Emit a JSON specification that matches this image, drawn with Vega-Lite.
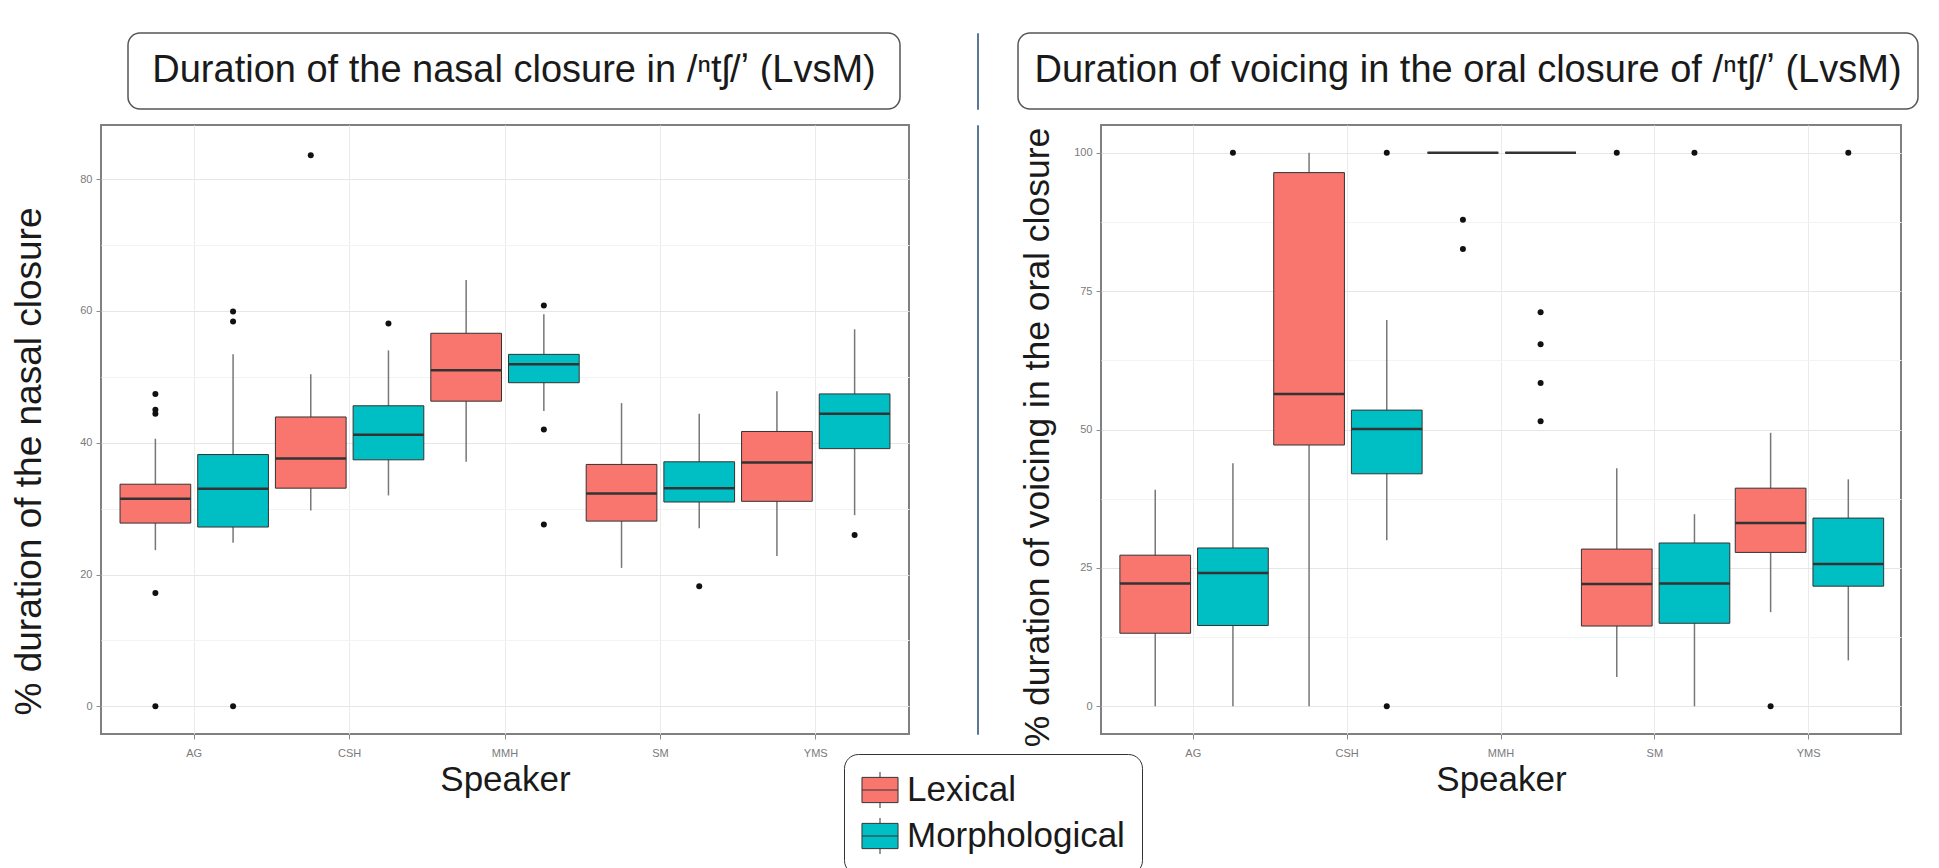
{
  "$schema": "https://vega.github.io/schema/vega-lite/v6.json",
  "background": "white",
  "padding": {"left": 9, "top": 32, "right": 5, "bottom": 0},
  "spacing": 14,
  "datasets": {
    "titles": [
      {"panel": "L", "t": "Duration of the nasal closure in /ⁿtʃ/ʼ (LvsM)"},
      {"panel": "R", "t": "Duration of voicing in the oral closure of /ⁿtʃ/ʼ (LvsM)"}
    ],
    "boxesL": [
      {"speaker": "AG", "group": "Lexical", "lo": 23.7, "q1": 27.8, "med": 31.5, "q3": 33.7, "hi": 40.6},
      {"speaker": "AG", "group": "Morphological", "lo": 24.8, "q1": 27.2, "med": 33.0, "q3": 38.2, "hi": 53.4},
      {"speaker": "CSH", "group": "Lexical", "lo": 29.7, "q1": 33.1, "med": 37.6, "q3": 43.9, "hi": 50.4},
      {"speaker": "CSH", "group": "Morphological", "lo": 32.0, "q1": 37.4, "med": 41.2, "q3": 45.6, "hi": 54.0},
      {"speaker": "MMH", "group": "Lexical", "lo": 37.1, "q1": 46.3, "med": 51.0, "q3": 56.6, "hi": 64.7},
      {"speaker": "MMH", "group": "Morphological", "lo": 44.8, "q1": 49.1, "med": 51.9, "q3": 53.4, "hi": 59.5},
      {"speaker": "SM", "group": "Lexical", "lo": 21.0, "q1": 28.1, "med": 32.3, "q3": 36.7, "hi": 46.0},
      {"speaker": "SM", "group": "Morphological", "lo": 27.0, "q1": 31.0, "med": 33.1, "q3": 37.1, "hi": 44.4},
      {"speaker": "YMS", "group": "Lexical", "lo": 22.8, "q1": 31.1, "med": 37.0, "q3": 41.7, "hi": 47.8},
      {"speaker": "YMS", "group": "Morphological", "lo": 29.0, "q1": 39.1, "med": 44.4, "q3": 47.4, "hi": 57.2}
    ],
    "outL": [
      {"speaker": "AG", "group": "Lexical", "v": 47.4},
      {"speaker": "AG", "group": "Lexical", "v": 45.0},
      {"speaker": "AG", "group": "Lexical", "v": 44.4},
      {"speaker": "AG", "group": "Lexical", "v": 17.2},
      {"speaker": "AG", "group": "Lexical", "v": 0},
      {"speaker": "AG", "group": "Morphological", "v": 59.9},
      {"speaker": "AG", "group": "Morphological", "v": 58.4},
      {"speaker": "AG", "group": "Morphological", "v": 0},
      {"speaker": "CSH", "group": "Lexical", "v": 83.6},
      {"speaker": "CSH", "group": "Morphological", "v": 58.1},
      {"speaker": "MMH", "group": "Morphological", "v": 60.8},
      {"speaker": "MMH", "group": "Morphological", "v": 42.0},
      {"speaker": "MMH", "group": "Morphological", "v": 27.6},
      {"speaker": "SM", "group": "Morphological", "v": 18.2},
      {"speaker": "YMS", "group": "Morphological", "v": 26.0}
    ],
    "boxesR": [
      {"speaker": "AG", "group": "Lexical", "lo": 0, "q1": 13.2, "med": 22.2, "q3": 27.3, "hi": 39.1},
      {"speaker": "AG", "group": "Morphological", "lo": 0, "q1": 14.6, "med": 24.1, "q3": 28.6, "hi": 43.9},
      {"speaker": "CSH", "group": "Lexical", "lo": 0, "q1": 47.2, "med": 56.4, "q3": 96.4, "hi": 100},
      {"speaker": "CSH", "group": "Morphological", "lo": 30.0, "q1": 42.0, "med": 50.1, "q3": 53.5, "hi": 69.8},
      {"speaker": "MMH", "group": "Lexical", "lo": 100, "q1": 100, "med": 100, "q3": 100, "hi": 100},
      {"speaker": "MMH", "group": "Morphological", "lo": 100, "q1": 100, "med": 100, "q3": 100, "hi": 100},
      {"speaker": "SM", "group": "Lexical", "lo": 5.3, "q1": 14.5, "med": 22.1, "q3": 28.4, "hi": 43.0},
      {"speaker": "SM", "group": "Morphological", "lo": 0, "q1": 15.0, "med": 22.2, "q3": 29.5, "hi": 34.7},
      {"speaker": "YMS", "group": "Lexical", "lo": 17.0, "q1": 27.8, "med": 33.1, "q3": 39.4, "hi": 49.4},
      {"speaker": "YMS", "group": "Morphological", "lo": 8.3, "q1": 21.7, "med": 25.7, "q3": 34.0, "hi": 41.0}
    ],
    "outR": [
      {"speaker": "AG", "group": "Morphological", "v": 100},
      {"speaker": "CSH", "group": "Morphological", "v": 100},
      {"speaker": "CSH", "group": "Morphological", "v": 0},
      {"speaker": "MMH", "group": "Lexical", "v": 87.9},
      {"speaker": "MMH", "group": "Lexical", "v": 82.6},
      {"speaker": "MMH", "group": "Morphological", "v": 71.2},
      {"speaker": "MMH", "group": "Morphological", "v": 65.4},
      {"speaker": "MMH", "group": "Morphological", "v": 58.4},
      {"speaker": "MMH", "group": "Morphological", "v": 51.5},
      {"speaker": "SM", "group": "Lexical", "v": 100},
      {"speaker": "SM", "group": "Morphological", "v": 100},
      {"speaker": "YMS", "group": "Lexical", "v": 0},
      {"speaker": "YMS", "group": "Morphological", "v": 100}
    ]
  },
  "config": {
    "font": "Liberation Sans",
    "view": {"stroke": "#808080", "strokeWidth": 2},
    "axis": {
      "labelFontSize": 11, "labelColor": "#7a7a7a", "tickColor": "#8a8a8a", "tickSize": 5,
      "domain": false, "labelPadding": 4, "titleFontWeight": "normal", "titleColor": "#1a1a1a"
    }
  },
  "vconcat": [
    {
      "bounds": "flush",
      "spacing": 0,
      "hconcat": [
        {"width": 27, "height": 76, "view": {"stroke": null}, "data": {"values": [{}]}, "mark": {"type": "point", "opacity": 0}, "encoding": {}},
        {
          "width": 772, "height": 76,
          "view": {"stroke": "#555555", "strokeWidth": 1.5, "cornerRadius": 12, "fill": "white"},
          "data": {"name": "titles"},
          "transform": [{"filter": "datum.panel === 'L'"}],
          "mark": {"type": "text", "fontSize": 38, "align": "center", "baseline": "middle", "color": "#1a1a1a"},
          "encoding": {"text": {"field": "t"}}
        },
        {"width": 77, "height": 76, "view": {"stroke": null}, "data": {"values": [{}]}, "mark": {"type": "point", "opacity": 0}, "encoding": {}},
        {"width": 1, "height": 76, "view": {"stroke": "#5a7896", "strokeWidth": 1}, "data": {"values": [{}]}, "mark": {"type": "point", "opacity": 0}, "encoding": {}},
        {"width": 40, "height": 76, "view": {"stroke": null}, "data": {"values": [{}]}, "mark": {"type": "point", "opacity": 0}, "encoding": {}},
        {
          "width": 900, "height": 76,
          "view": {"stroke": "#555555", "strokeWidth": 1.5, "cornerRadius": 12, "fill": "white"},
          "data": {"name": "titles"},
          "transform": [{"filter": "datum.panel === 'R'"}],
          "mark": {"type": "text", "fontSize": 38, "align": "center", "baseline": "middle", "color": "#1a1a1a"},
          "encoding": {"text": {"field": "t"}}
        }
      ]
    },
    {
      "bounds": "flush",
      "spacing": 0,
      "hconcat": [
        {
          "width": 808, "height": 609,
          "encoding": {
            "x": {"field": "speaker", "type": "nominal", "sort": ["AG", "CSH", "MMH", "SM", "YMS"],
              "scale": {"paddingInner": 0, "paddingOuter": 0.1},
              "axis": {"title": "Speaker", "titleFontSize": 35, "titlePadding": 4, "labelAngle": 0, "labelPadding": 8, "bandPosition": 0.5, "gridColor": "#ebebeb", "grid": true}},
            "xOffset": {"field": "group", "type": "nominal", "sort": ["Lexical", "Morphological"], "scale": {"paddingInner": 0.09, "paddingOuter": 0.045}}
          },
          "layer": [
            {
              "data": {"name": "boxesL"},
              "mark": {"type": "rule", "color": "#777777", "strokeWidth": 1.5},
              "encoding": {
                "y": {"field": "lo", "type": "quantitative", "scale": {"domain": [-4.2, 88.2], "nice": false, "zero": false},
                  "axis": {"title": "% duration of the nasal closure", "titleFontSize": 37, "titlePadding": 31, "titleY": 336,
                    "values": [0, 10, 20, 30, 40, 50, 60, 70, 80],
                    "labelExpr": "datum.value % 20 === 0 ? datum.label : ''",
                    "tickOpacity": {"condition": {"test": "datum.value % 20 === 0", "value": 1}, "value": 0},
                    "gridColor": {"condition": {"test": "datum.value % 20 === 0", "value": "#e6e6e6"}, "value": "#f3f3f3"}}},
                "y2": {"field": "hi"}
              }
            },
            {
              "data": {"name": "boxesL"},
              "mark": {"type": "bar", "stroke": "#333333", "strokeWidth": 1},
              "encoding": {
                "y": {"field": "q1", "type": "quantitative"},
                "y2": {"field": "q3"},
                "color": {"field": "group", "type": "nominal", "scale": {"domain": ["Lexical", "Morphological"], "range": ["#F8766D", "#00BFC4"]},
                  "legend": {"title": null, "orient": "none", "legendX": 743, "legendY": 721, "labelFontSize": 35, "labelColor": "#1a1a1a", "labelLimit": 500,
                    "symbolType": "M-1,-0.7H1V0.7H-1Z M-1,0H1 M0,-0.7V-1 M0,0.7V1", "symbolSize": 1300, "symbolStrokeColor": "#333333", "symbolStrokeWidth": 1,
                    "symbolOpacity": 1, "rowPadding": 4, "labelOffset": 8, "padding": 17, "strokeColor": "#333333", "cornerRadius": 14, "fillColor": "white"}}
              }
            },
            {
              "data": {"name": "boxesL"},
              "mark": {"type": "bar", "stroke": "#333333", "strokeWidth": 2.5, "fill": null},
              "encoding": {
                "y": {"field": "med", "type": "quantitative"},
                "y2": {"field": "med"}
              }
            },
            {
              "data": {"name": "outL"},
              "mark": {"type": "point", "filled": true, "color": "#111111", "size": 36, "opacity": 1},
              "encoding": {"y": {"field": "v", "type": "quantitative"}}
            }
          ]
        },
        {"width": 68, "height": 609, "view": {"stroke": null}, "data": {"values": [{}]}, "mark": {"type": "point", "opacity": 0}, "encoding": {}},
        {"width": 1, "height": 609, "view": {"stroke": "#5a7896", "strokeWidth": 1}, "data": {"values": [{}]}, "mark": {"type": "point", "opacity": 0}, "encoding": {}},
        {"width": 123, "height": 609, "view": {"stroke": null}, "data": {"values": [{}]}, "mark": {"type": "point", "opacity": 0}, "encoding": {}},
        {
          "width": 800, "height": 609,
          "encoding": {
            "x": {"field": "speaker", "type": "nominal", "sort": ["AG", "CSH", "MMH", "SM", "YMS"],
              "scale": {"paddingInner": 0, "paddingOuter": 0.1},
              "axis": {"title": "Speaker", "titleFontSize": 35, "titlePadding": 4, "labelAngle": 0, "labelPadding": 8, "bandPosition": 0.5, "gridColor": "#ebebeb", "grid": true}},
            "xOffset": {"field": "group", "type": "nominal", "sort": ["Lexical", "Morphological"], "scale": {"paddingInner": 0.09, "paddingOuter": 0.045}}
          },
          "layer": [
            {
              "data": {"name": "boxesR"},
              "mark": {"type": "rule", "color": "#777777", "strokeWidth": 1.5},
              "encoding": {
                "y": {"field": "lo", "type": "quantitative", "scale": {"domain": [-5, 105], "nice": false, "zero": false},
                  "axis": {"title": "% duration of voicing in the oral closure", "titleFontSize": 35.5, "titlePadding": 18, "titleY": 312,
                    "values": [0, 12.5, 25, 37.5, 50, 62.5, 75, 87.5, 100],
                    "labelExpr": "datum.value % 25 === 0 ? datum.label : ''",
                    "tickOpacity": {"condition": {"test": "datum.value % 25 === 0", "value": 1}, "value": 0},
                    "gridColor": {"condition": {"test": "datum.value % 25 === 0", "value": "#e6e6e6"}, "value": "#f3f3f3"}}},
                "y2": {"field": "hi"}
              }
            },
            {
              "data": {"name": "boxesR"},
              "mark": {"type": "bar", "stroke": "#333333", "strokeWidth": 1},
              "encoding": {
                "y": {"field": "q1", "type": "quantitative"},
                "y2": {"field": "q3"},
                "color": {"field": "group", "type": "nominal", "scale": {"domain": ["Lexical", "Morphological"], "range": ["#F8766D", "#00BFC4"]},
                  "legend": {"title": null, "orient": "none", "legendX": 743, "legendY": 721, "labelFontSize": 35, "labelColor": "#1a1a1a", "labelLimit": 500,
                    "symbolType": "M-1,-0.7H1V0.7H-1Z M-1,0H1 M0,-0.7V-1 M0,0.7V1", "symbolSize": 1300, "symbolStrokeColor": "#333333", "symbolStrokeWidth": 1,
                    "symbolOpacity": 1, "rowPadding": 4, "labelOffset": 8, "padding": 17, "strokeColor": "#333333", "cornerRadius": 14, "fillColor": "white"}}
              }
            },
            {
              "data": {"name": "boxesR"},
              "mark": {"type": "bar", "stroke": "#333333", "strokeWidth": 2.5, "fill": null},
              "encoding": {
                "y": {"field": "med", "type": "quantitative"},
                "y2": {"field": "med"}
              }
            },
            {
              "data": {"name": "outR"},
              "mark": {"type": "point", "filled": true, "color": "#111111", "size": 36, "opacity": 1},
              "encoding": {"y": {"field": "v", "type": "quantitative"}}
            }
          ]
        }
      ]
    }
  ]
}
